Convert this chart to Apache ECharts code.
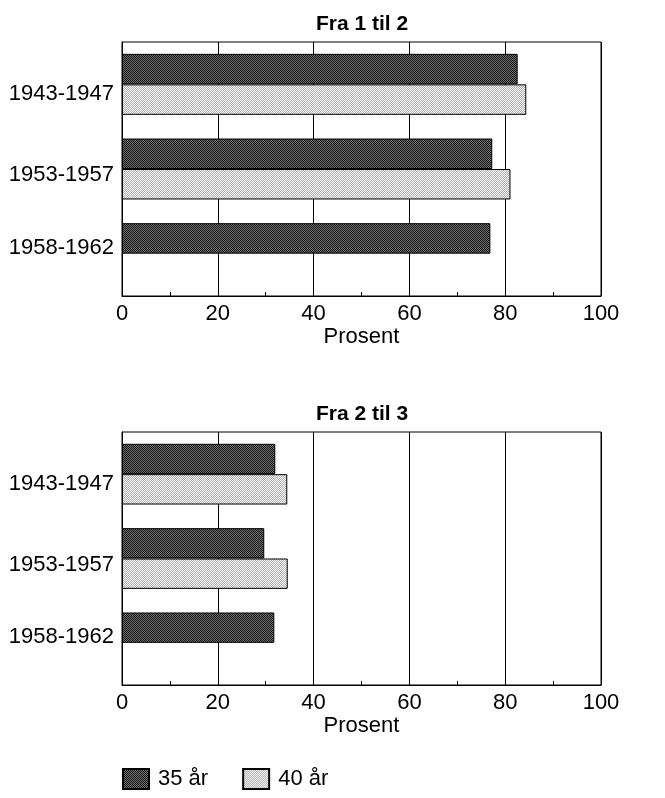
<!DOCTYPE html>
<html>
<head>
<meta charset="utf-8">
<script src="https://cdn.jsdelivr.net/npm/echarts@6/dist/echarts.min.js"></script>
<style>
html,body{margin:0;padding:0;background:#fff;}
#chart{width:665px;height:798px;}
</style>
</head>
<body>
<div id="chart"></div>
<script>
// ---- data ----
const categories = ['1943-1947', '1953-1957', '1958-1962'];
const seriesNames = ['35 år', '40 år'];
const titles = ['Fra 1 til 2', 'Fra 2 til 3'];
const axisName = 'Prosent';
const xTicks = [0, 20, 40, 60, 80, 100];
const chart1_35 = [82.6, 77.3, 76.9];
const chart1_40 = [84.4, 81.1, null];
const chart2_35 = [32.0, 29.7, 31.8];
const chart2_40 = [34.5, 34.6, null];

// ---- patterns ----
function makePattern(c1, c2) {
  const cv = document.createElement('canvas');
  cv.width = 2; cv.height = 2;
  const ctx = cv.getContext('2d');
  ctx.fillStyle = c1; ctx.fillRect(0, 0, 2, 2);
  ctx.fillStyle = c2; ctx.fillRect(1, 0, 1, 1); ctx.fillRect(0, 1, 1, 1);
  return { image: cv, repeat: 'repeat' };
}
const darkFill = makePattern('#161616', '#707070');
const lightFill = makePattern('#f6f6f6', '#b2b2b2');

const FONT = "'Liberation Sans', Arial, sans-serif";
const FS = 22;

const grids = [
  { left: 122, right: 64, top: 42, height: 254 },
  { left: 122, right: 64, top: 432, height: 253 }
];

// per-category label nudges (text only)
const labelRich = {
  c0: { padding: [20, 0, 0, 0], fontFamily: FONT, fontSize: FS, color: '#000' },
  c1: { padding: [12, 0, 0, 0], fontFamily: FONT, fontSize: FS, color: '#000' },
  c2: { padding: [0, 0, 12, 0], fontFamily: FONT, fontSize: FS, color: '#000' }
};

function xAxisDef(gi) {
  return {
    type: 'value', gridIndex: gi, min: xTicks[0], max: xTicks[xTicks.length - 1], interval: 20,
    name: axisName, nameLocation: 'middle', nameGap: 28,
    nameTextStyle: { fontFamily: FONT, fontSize: FS, color: '#000' },
    axisLine: { show: true, lineStyle: { color: '#000', width: 1 } },
    axisTick: { show: false, inside: true },
    minorTick: { show: true, splitNumber: 2, length: 4, lineStyle: { color: '#000', width: 1 } },
    splitLine: { show: true, lineStyle: { color: '#000', width: 1 } },
    axisLabel: { fontFamily: FONT, fontSize: FS, color: '#000', margin: 7 }
  };
}
function yAxisDef(gi) {
  return {
    type: 'category', gridIndex: gi, data: categories, inverse: true,
    axisLine: { show: true, lineStyle: { color: '#000', width: 1 } },
    axisTick: { show: false },
    splitLine: { show: false },
    axisLabel: {
      fontFamily: FONT, fontSize: FS, color: '#000', margin: 8,
      formatter: (v, i) => '{c' + i + '|' + v + '}',
      rich: labelRich
    }
  };
}
function barSeries(name, data, gi, fill) {
  return {
    name: name, type: 'bar', xAxisIndex: gi, yAxisIndex: gi, data: data,
    barGap: '0%', barCategoryGap: '28%',
    itemStyle: { color: fill, borderColor: '#000', borderWidth: 1 },
    emphasis: { disabled: true },
    animation: false
  };
}

const option = {
  animation: false,
  backgroundColor: '#fff',
  title: [
    { text: titles[0], left: 357, top: 9, textAlign: 'center',
      textStyle: { fontFamily: FONT, fontSize: 21, fontWeight: 'bold', color: '#000' } },
    { text: titles[1], left: 357, top: 399, textAlign: 'center',
      textStyle: { fontFamily: FONT, fontSize: 21, fontWeight: 'bold', color: '#000' } }
  ],
  legend: {
    left: 122, top: 768, itemWidth: 26, itemHeight: 20, itemGap: 34, padding: 0,
    icon: 'rect',
    data: seriesNames,
    textStyle: { fontFamily: FONT, fontSize: FS, color: '#000', padding: [0, 0, 0, 4] }
  },
  grid: grids.map(g => Object.assign({ show: true, borderColor: '#000', borderWidth: 1, backgroundColor: 'transparent', outerBoundsMode: 'none', containLabel: false }, g)),
  xAxis: [xAxisDef(0), xAxisDef(1)],
  yAxis: [yAxisDef(0), yAxisDef(1)],
  series: [
    barSeries(seriesNames[0], chart1_35, 0, darkFill),
    barSeries(seriesNames[1], chart1_40, 0, lightFill),
    barSeries(seriesNames[0], chart2_35, 1, darkFill),
    barSeries(seriesNames[1], chart2_40, 1, lightFill)
  ]
};

const chart = echarts.init(document.getElementById('chart'), null, { renderer: 'canvas' });
chart.setOption(option);
</script>
</body>
</html>
